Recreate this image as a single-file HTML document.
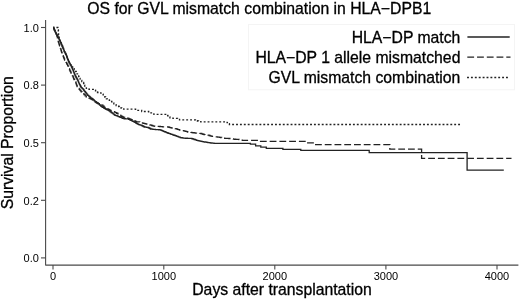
<!DOCTYPE html>
<html><head><meta charset="utf-8"><style>
html,body{margin:0;padding:0;background:#fff;}
svg{display:block;filter:grayscale(1);}
text{font-family:"Liberation Sans",sans-serif;fill:#000;stroke:#000;stroke-width:0.3px;}
.tl text{stroke:none;}
</style></head><body>
<svg width="520" height="301" viewBox="0 0 520 301">
<rect width="520" height="301" fill="#fff"/>
<text x="87.3" y="13.7" font-size="15.75">OS for GVL mismatch combination in HLA&#8722;DPB1</text>
<g fill="none" stroke="#4a4a4a" stroke-width="1.1" stroke-linejoin="round">
<path d="M45.6,20V265.1H518.4"/>
<path d="M41,27.5H45.6"/><path d="M41,85.1H45.6"/><path d="M41,142.7H45.6"/><path d="M41,200.3H45.6"/><path d="M41,257.9H45.6"/><path d="M53,265.1V269.6"/><path d="M163.8,265.1V269.6"/><path d="M274.8,265.1V269.6"/><path d="M385.9,265.1V269.6"/><path d="M497,265.1V269.6"/>
</g>
<g font-size="11" class="tl"><text x="38.9" y="31.8" text-anchor="end">1.0</text><text x="38.9" y="89.39999999999999" text-anchor="end">0.8</text><text x="38.9" y="147.0" text-anchor="end">0.5</text><text x="38.9" y="204.60000000000002" text-anchor="end">0.2</text><text x="38.9" y="262.2" text-anchor="end">0.0</text><text x="53" y="279.5" text-anchor="middle">0</text><text x="163.8" y="279.5" text-anchor="middle">1000</text><text x="274.8" y="279.5" text-anchor="middle">2000</text><text x="385.9" y="279.5" text-anchor="middle">3000</text><text x="497" y="279.5" text-anchor="middle">4000</text></g>
<text x="282" y="295.4" font-size="15.75" text-anchor="middle">Days after transplantation</text>
<text transform="translate(13.1,142.8) rotate(-90)" font-size="15.75" text-anchor="middle">Survival Proportion</text>
<rect x="248.5" y="24.5" width="266" height="65.3" fill="none" stroke="#f4f4f4" stroke-width="1"/>
<g font-size="15.75" text-anchor="end">
<text x="460.4" y="42.8">HLA&#8722;DP match</text>
<text x="460.4" y="62.8">HLA&#8722;DP 1 allele mismatched</text>
<text x="460.4" y="82.9">GVL mismatch combination</text>
</g>
<g fill="none" stroke="#222" stroke-width="1.3">
<path d="M467.4,37H509.7"/>
<path d="M467.3,57.1H510.5" stroke-dasharray="6.8,2.95"/>
<path d="M467.05,77.5H507.9" stroke-dasharray="1.9,1.996"/>
<path d="M53.2,27.5H53.70V28.65H54.20V29.80H54.70V30.95H55.20V32.10H55.77V33.23H56.33V34.37H56.90V35.50H57.43V36.33H57.97V37.17H58.50V38.00H58.87V38.83H59.23V39.67H59.60V40.50H60.10V41.60H60.60V42.70H61.10V43.80H61.60V44.95H62.10V46.10H62.60V47.25H63.10V48.40H63.50V49.47H63.90V50.53H64.30V51.60H64.78V52.55H65.25V53.50H65.72V54.45H66.20V55.40H66.62V56.47H67.03V57.53H67.45V58.60H67.87V59.67H68.28V60.73H68.70V61.80H69.26V62.84H69.82V63.88H70.38V64.92H70.94V65.96H71.50V67.00H72.00V68.20H72.50V69.40H73.00V70.60H73.50V71.80H73.92V72.85H74.35V73.90H74.78V74.95H75.20V76.00H75.78V77.00H76.35V78.00H76.92V79.00H77.50V80.00H78.00V81.17H78.50V82.35H79.00V83.53H79.50V84.70H80.10V85.77H80.70V86.83H81.30V87.90H82.40V88.95H83.50V90.00H84.13V90.83H84.77V91.67H85.40V92.50H86.17V93.43H86.93V94.37H87.70V95.30H88.63V96.13H89.57V96.97H90.50V97.80H91.43V98.50H92.37V99.20H93.30V99.90H94.23V100.83H95.17V101.77H96.10V102.70H97.17V103.33H98.23V103.97H99.30V104.60H100.00V105.40H100.70V106.20H101.70V106.83H102.70V107.45H103.70V108.08H104.70V108.70H105.87V109.27H107.03V109.83H108.20V110.40H109.20V111.10H110.20V111.80H111.20V112.50H112.12V113.20H113.05V113.90H113.98V114.60H114.90V115.30H116.05V115.72H117.20V116.15H118.35V116.58H119.50V117.00H120.53V117.42H121.55V117.85H122.57V118.28H123.60V118.70H124.57V118.75H125.55V118.80H126.53V118.85H127.50V118.90H128.60V119.40H129.70V119.90H130.80V120.40H131.80V120.90H132.80V121.40H133.80V121.90H134.80V122.40H135.77V123.00H136.73V123.60H137.70V124.20H138.65V124.53H139.60V124.85H140.55V125.17H141.50V125.50H142.43V126.00H143.37V126.50H144.30V127.00H145.47V127.17H146.63V127.33H147.80V127.50H148.77V128.00H149.73V128.50H150.70V129.00H151.85V129.15H153.00V129.30H154.15V129.45H155.30V129.60H156.45V129.65H157.60V129.70H158.75V129.75H159.90V129.80H161.07V130.30H162.23V130.80H163.40V131.30H164.43V131.73H165.45V132.15H166.47V132.57H167.50V133.00H168.50V133.35H169.50V133.70H170.50V134.05H171.50V134.40H172.68V134.82H173.85V135.25H175.02V135.68H176.20V136.10H177.20V136.47H178.20V136.85H179.20V137.22H180.20V137.60H181.20V137.75H182.20V137.90H183.20V138.05H184.20V138.20H185.30V138.23H186.40V138.27H187.50V138.30H188.60V138.33H189.70V138.37H190.80V138.40H191.93V138.77H193.07V139.13H194.20V139.50H195.37V139.90H196.53V140.30H197.70V140.70H198.85V140.92H200.00V141.15H201.15V141.38H202.30V141.60H203.45V141.80H204.60V142.00H205.75V142.20H206.90V142.40H207.93V142.55H208.95V142.70H209.97V142.85H211.00V143.00H212.00V143.10H213.00V143.20H214.00V143.30H215.00V143.40H250.4V144.2H255.6V145.8H260.8V147.1H266.3V148.3H282.9V149.4H300.8V150.3H369.2V152.7H467.1V170.1H503.8"/>
<path d="M53.2,27.5H53.70V28.65H54.20V29.80H54.70V30.95H55.20V32.10H55.77V33.23H56.33V34.37H56.90V35.50H57.16V36.70H57.42V37.90H57.68V39.10H57.94V40.30H58.20V41.50H58.55V42.65H58.90V43.80H59.25V44.95H59.60V46.10H60.00V47.23H60.40V48.37H60.80V49.50H61.10V50.53H61.40V51.57H61.70V52.60H62.08V53.60H62.45V54.60H62.83V55.60H63.20V56.60H63.67V57.77H64.13V58.93H64.60V60.10H65.27V61.23H65.93V62.37H66.60V63.50H67.10V64.47H67.60V65.43H68.10V66.40H68.57V67.55H69.05V68.70H69.53V69.85H70.00V71.00H70.58V72.14H71.16V73.28H71.74V74.42H72.32V75.56H72.90V76.70H73.27V77.63H73.63V78.57H74.00V79.50H74.60V80.63H75.20V81.77H75.80V82.90H76.15V83.85H76.50V84.80H76.85V85.75H77.20V86.70H77.87V87.57H78.53V88.43H79.20V89.30H79.87V90.13H80.53V90.97H81.20V91.80H82.13V92.77H83.07V93.73H84.00V94.70H85.15V95.90H86.30V97.10H87.20V97.47H88.10V97.83H89.00V98.20H90.00V98.63H91.00V99.07H92.00V99.50H93.03V100.22H94.05V100.95H95.07V101.68H96.10V102.40H97.17V103.00H98.23V103.60H99.30V104.20H100.13V104.53H100.97V104.87H101.80V105.20H102.95V106.25H104.10V107.30H105.14V107.80H106.18V108.30H107.22V108.80H108.26V109.30H109.30V109.80H110.15V110.40H111.00V111.00H112.10V111.37H113.20V111.73H114.30V112.10H115.47V112.67H116.63V113.23H117.80V113.80H118.77V114.47H119.73V115.13H120.70V115.80H121.67V116.33H122.63V116.87H123.60V117.40H124.75V117.65H125.90V117.90H127.05V118.15H128.20V118.40H129.13V118.80H130.07V119.20H131.00V119.60H132.10V120.04H133.20V120.48H134.30V120.92H135.40V121.36H136.50V121.80H137.65V121.85H138.80V121.90H139.75V122.23H140.70V122.55H141.65V122.88H142.60V123.20H143.62V123.42H144.65V123.65H145.67V123.88H146.70V124.10H147.70V124.38H148.70V124.65H149.70V124.92H150.70V125.20H151.70V125.50H152.70V125.80H153.70V126.10H154.70V126.40H155.88V126.43H157.05V126.45H158.22V126.47H159.40V126.50H160.43V126.60H161.45V126.70H162.47V126.80H163.50V126.90H164.65V126.93H165.80V126.95H166.95V126.97H168.10V127.00H169.10V127.28H170.10V127.55H171.10V127.82H172.10V128.10H173.12V128.30H174.15V128.50H175.17V128.70H176.20V128.90H177.33V129.30H178.47V129.70H179.60V130.10H180.62V130.30H181.65V130.50H182.67V130.70H183.70V130.90H184.70V131.18H185.70V131.45H186.70V131.72H187.70V132.00H188.75V132.15H189.80V132.30H190.85V132.45H191.90V132.60H193.05V132.75H194.20V132.90H195.35V133.05H196.50V133.20H197.53V133.27H198.55V133.35H199.57V133.43H200.60V133.50H201.73V133.87H202.87V134.23H204.00V134.60H205.03V134.75H206.05V134.90H207.07V135.05H208.10V135.20H209.10V135.50H210.10V135.80H211.10V136.10H212.10V136.40H213.22V136.53H214.35V136.65H215.47V136.78H216.60V136.90H217.62V137.05H218.65V137.20H219.67V137.35H220.70V137.50H221.70V137.72H222.70V137.95H223.70V138.18H224.70V138.40H225.74V138.42H226.78V138.44H227.82V138.46H228.86V138.48H229.90V138.50H231.07V138.73H232.23V138.97H233.40V139.20H234.54V139.26H235.68V139.32H236.82V139.38H237.96V139.44H239.10V139.50H240.17V139.80H241.23V140.10H242.30V140.40H257.3V141.3H306V142.9H315V144.7H389.8V149.2H421.6V158.3H511.5" stroke-dasharray="6.8,2.95" stroke-dashoffset="1.24"/>
<path d="M53.2,27.5H54.30V27.50H55.40V27.50H56.50V27.50H57.60V27.50H57.87V28.67H58.13V29.83H58.40V31.00H58.45V32.00H58.50V33.00H58.55V34.00H58.60V35.00H58.80V36.10H59.00V37.20H59.20V38.30H59.40V39.40H59.60V40.50H60.10V41.60H60.60V42.70H61.10V43.80H61.60V44.95H62.10V46.10H62.60V47.25H63.10V48.40H63.50V49.47H63.90V50.53H64.30V51.60H64.78V52.55H65.25V53.50H65.72V54.45H66.20V55.40H66.62V56.47H67.03V57.53H67.45V58.60H67.87V59.67H68.28V60.73H68.70V61.80H69.28V62.85H69.85V63.90H70.42V64.95H71.00V66.00H71.83V66.90H72.67V67.80H73.50V68.70H74.17V69.63H74.83V70.57H75.50V71.50H76.25V72.65H77.00V73.80H77.53V74.73H78.07V75.67H78.60V76.60H79.10V77.47H79.60V78.33H80.10V79.20H80.95V80.35H81.80V81.50H82.70V82.50H83.60V83.50H83.97V84.37H84.33V85.23H84.70V86.10H85.50V87.20H86.30V88.30H87.20V88.63H88.10V88.97H89.00V89.30H90.05V89.30H91.10V89.30H92.15V89.30H93.20V89.30H94.35V90.05H95.50V90.80H96.50V91.65H97.50V92.50H98.60V92.73H99.70V92.97H100.80V93.20H101.95V94.05H103.10V94.90H103.95V95.95H104.80V97.00H105.60V97.95H106.40V98.90H107.37V99.37H108.33V99.83H109.30V100.30H110.45V101.05H111.60V101.80H112.70V102.80H113.80V103.80H114.95V104.65H116.10V105.50H116.93V105.83H117.77V106.17H118.60V106.50H119.40V107.03H120.20V107.57H121.00V108.10H121.87V108.47H122.73V108.83H123.60V109.20H135.6V110.3H141.7V111.5H148.7V112.9H149.57V112.90H150.43V112.90H151.30V112.90H152.17V113.37H153.03V113.83H153.90V114.30H165.3V114.3H166.45V115.05H167.60V115.80H168.75V116.80H169.90V117.80H170.97V118.00H172.03V118.20H173.10V118.40H176.5V118.4H177.50V118.87H178.50V119.33H179.50V119.80H194.5V119.8H195.47V120.20H196.43V120.60H197.40V121.00H198.53V121.27H199.67V121.53H200.80V121.80H224.2V121.8H225.17V122.10H226.13V122.40H227.10V122.70H228.25V123.60H229.40V124.50H460.2" stroke-dasharray="1.9,1.996" stroke-dashoffset="0.672"/>
</g>
</svg>
</body></html>
